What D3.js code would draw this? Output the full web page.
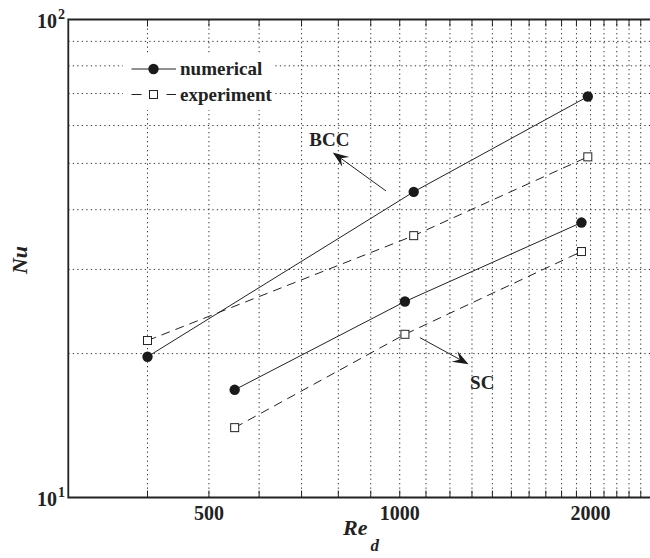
<!DOCTYPE html>
<html lang="en">
<head>
  <meta charset="UTF-8">
  <title>Nu vs Re_d</title>
  <script src="https://d3js.org/d3.v7.min.js"></script>
  <style>
    body { margin: 0; background: #fff; }
  </style>
</head>
<body>
  <div id="chart"></div>
  <script>
    // values
    const bccRe = [400, 1052, 1980];
    const bccNum = [19.7, 43.6, 69.0];
    const bccExp = [21.3, 35.3, 51.6];
    const scRe = [549, 1019, 1935];
    const scNum = [16.8, 25.7, 37.6];
    const scExp = [14.0, 21.95, 32.7];

    const xGrid = d3.range(400, 2500, 100);
    const yGrid = [20, 30, 40, 50, 60, 70, 80, 90];
    const xLabels = [500, 1000, 2000];
    const yLabels = [10, 100];

    const width = 650, height = 558;
    const svg = d3.select("#chart").append("svg")
      .attr("width", width).attr("height", height)
      .attr("font-family", "'Liberation Serif', 'Times New Roman', Times, 'DejaVu Serif', serif")
      .attr("font-weight", "bold")
      .attr("fill", "#222");

    const x = d3.scaleLog().domain([300, 2500]).range([68.3, 652]);
    const y = d3.scaleLog().domain([10, 100]).range([497.5, 19.5]);
    const x0 = x.range()[0], x1 = x.range()[1], y0 = y.range()[0], y1 = y.range()[1];

    // grid
    svg.append("g").selectAll("line").data(xGrid).join("line")
      .attr("x1", d => x(d)).attr("x2", d => x(d))
      .attr("y1", y1).attr("y2", y0)
      .attr("stroke", "#333").attr("stroke-width", 1).attr("stroke-dasharray", "1.3,3.2");
    svg.append("g").selectAll("line").data(yGrid).join("line")
      .attr("x1", x0).attr("x2", x1)
      .attr("y1", d => y(d)).attr("y2", d => y(d))
      .attr("stroke", "#333").attr("stroke-width", 1).attr("stroke-dasharray", "1.3,3.2");

    // small inward ticks bottom and top
    svg.append("g").selectAll("line").data(xGrid).join("line")
      .attr("x1", d => x(d)).attr("x2", d => x(d))
      .attr("y1", y0).attr("y2", y0 - 7)
      .attr("stroke", "#222").attr("stroke-width", 1);
    svg.append("g").selectAll("line").data(xGrid).join("line")
      .attr("x1", d => x(d)).attr("x2", d => x(d))
      .attr("y1", y1).attr("y2", y1 + 7)
      .attr("stroke", "#222").attr("stroke-width", 1);

    // legend background (covers grid)
    svg.append("rect")
      .attr("x", 123).attr("y", 53).attr("width", 152).attr("height", 57)
      .attr("fill", "#fff");

    // series
    const line = d3.line().x(d => x(d[0])).y(d => y(d[1]));
    const series = [
      { re: bccRe, v: bccNum, dash: null, mark: "circle" },
      { re: bccRe, v: bccExp, dash: "9,6", mark: "square" },
      { re: scRe, v: scNum, dash: null, mark: "circle" },
      { re: scRe, v: scExp, dash: "9,6", mark: "square" }
    ];
    series.forEach(s => {
      const pts = s.re.map((r, i) => [r, s.v[i]]);
      svg.append("path").datum(pts)
        .attr("d", line)
        .attr("fill", "none").attr("stroke", "#222").attr("stroke-width", 1)
        .attr("stroke-dasharray", s.dash);
      if (s.mark === "circle") {
        svg.append("g").selectAll("circle").data(pts).join("circle")
          .attr("cx", d => x(d[0])).attr("cy", d => y(d[1])).attr("r", 5.2)
          .attr("fill", "#1a1a1a");
      } else {
        svg.append("g").selectAll("rect").data(pts).join("rect")
          .attr("x", d => x(d[0]) - 4).attr("y", d => y(d[1]) - 4)
          .attr("width", 8).attr("height", 8)
          .attr("fill", "#fff").attr("stroke", "#222").attr("stroke-width", 1);
      }
    });

    // axes box
    svg.append("path")
      .attr("d", `M${x1},${y1}H${x0}V${y0}H${x1}`)
      .attr("fill", "none").attr("stroke", "#222").attr("stroke-width", 1.8);

    // tick labels
    svg.append("g").selectAll("text").data(xLabels).join("text")
      .attr("x", d => x(d)).attr("y", 520)
      .attr("text-anchor", "middle").attr("font-size", 20)
      .text(d => d);
    yLabels.forEach(v => {
      svg.append("text")
        .attr("x", 57).attr("y", y(v) + 8)
        .attr("text-anchor", "end").attr("font-size", 20).text("10");
      svg.append("text")
        .attr("x", 58).attr("y", y(v) - 1)
        .attr("font-size", 14).text(Math.round(Math.log10(v)));
    });

    // axis titles
    const xt = svg.append("text")
      .attr("x", 343).attr("y", 535)
      .attr("font-size", 22).attr("font-style", "italic");
    xt.append("tspan").text("Re");
    xt.append("tspan").attr("dx", 3).attr("dy", 16).attr("font-size", 17).text("d");

    svg.append("text")
      .attr("transform", "translate(27,260) rotate(-90)")
      .attr("text-anchor", "middle")
      .attr("font-size", 22).attr("font-style", "italic")
      .text("Nu");

    // legend
    const legendRows = [
      { label: "numerical", dashed: false, mark: "circle", yy: 69 },
      { label: "experiment", dashed: true, mark: "square", yy: 94.5 }
    ];
    legendRows.forEach(r => {
      const segs = r.dashed ? [[131.5, 141.5], [166.5, 176]] : [[131.5, 176]];
      segs.forEach(sg => {
        svg.append("line")
          .attr("x1", sg[0]).attr("x2", sg[1]).attr("y1", r.yy).attr("y2", r.yy)
          .attr("stroke", "#222").attr("stroke-width", 1);
      });
      if (r.mark === "circle") {
        svg.append("circle").attr("cx", 153.5).attr("cy", r.yy).attr("r", 5.2).attr("fill", "#1a1a1a");
      } else {
        svg.append("rect").attr("x", 149.5).attr("y", r.yy - 4).attr("width", 8).attr("height", 8)
          .attr("fill", "#fff").attr("stroke", "#222");
      }
      svg.append("text").attr("x", 180).attr("y", r.yy + 6)
        .attr("font-size", 19).text(r.label);
    });

    // annotations (data units)
    const notes = [
      { label: "BCC", from: [951, 43.8], to: [784, 52.7], at: [720, 54.4] },
      { label: "SC", from: [1076, 21.6], to: [1284, 19.0], at: [1291, 16.9] }
    ];
    notes.forEach(n => {
      const fx = x(n.from[0]), fy = y(n.from[1]);
      const tx = x(n.to[0]), ty = y(n.to[1]);
      const ang = Math.atan2(ty - fy, tx - fx);
      const L = 16, W = 6, notch = 10;
      const pt = (a, b) => [tx + a * Math.cos(ang) - b * Math.sin(ang), ty + a * Math.sin(ang) + b * Math.cos(ang)];
      svg.append("line")
        .attr("x1", fx).attr("y1", fy)
        .attr("x2", pt(-notch, 0)[0]).attr("y2", pt(-notch, 0)[1])
        .attr("stroke", "#222").attr("stroke-width", 1);
      const head = [pt(0, 0), pt(-L, W), pt(-notch, 0), pt(-L, -W)];
      svg.append("path")
        .attr("d", "M" + head.map(p => p.join(",")).join("L") + "Z")
        .attr("fill", "#1a1a1a");
      svg.append("text").attr("x", x(n.at[0])).attr("y", y(n.at[1]))
        .attr("font-size", 19).text(n.label);
    });
  </script>
</body>
</html>
